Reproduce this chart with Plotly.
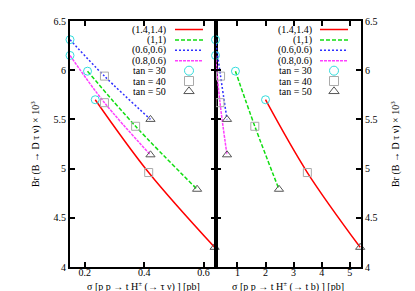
import plotly.graph_objects as go

# ---------------- data ----------------
tan_beta = [30, 40, 50]
series_names = ["(1.4,1.4)", "(1,1)", "(0.6,0.6)", "(0.8,0.6)"]

br_14 = [5.70, 4.96, 4.20]
br_11 = [5.99, 5.43, 4.79]
br_0606 = [6.31, 5.94, 5.50]
br_0806 = [6.15, 5.67, 5.14]

sig_taunu_14 = [0.235, 0.415, 0.637]
sig_taunu_11 = [0.209, 0.371, 0.578]
sig_taunu_0606 = [0.150, 0.266, 0.421]
sig_taunu_0806 = [0.150, 0.266, 0.421]

sig_tb_14 = [2.00, 3.49, 5.37]
sig_tb_11 = [0.93, 1.62, 2.48]
sig_tb_0606 = [0.22, 0.40, 0.63]
sig_tb_0806 = [0.22, 0.38, 0.63]

x_ticks_left = [0.2, 0.4, 0.6]
x_ticks_right = [1, 2, 3, 4, 5]
y_ticks = [4, 4.5, 5, 5.5, 6, 6.5]

x_title_left = "\u03c3 [p p \u2192 t H<sup>\u00b1</sup> (\u2192 \u03c4 \u03bd) ] [pb]"
x_title_right = "\u03c3 [p p \u2192 t H<sup>\u00b1</sup> (\u2192 t b) ] [pb]"
y_title = "Br (B \u2192 D \u03c4 \u03bd) \u00d7 10<sup>3</sup>"

# ---------------- styles ----------------
FONT = "Liberation Serif"
line_colors = ["#ff0000", "#11dd11", "#3030ff", "#ff40ff"]
line_dashes = ["solid", "4px,2px", "2px,2px", "3px,1px"]
marker_syms = ["circle-open", "square-open", "triangle-up-open"]
marker_cols = ["#33dddd", "#aaaaaa", "#555555"]
marker_sizes = [8, 8, 8]

brs = [br_14, br_11, br_0606, br_0806]
sig_left = [sig_taunu_14, sig_taunu_11, sig_taunu_0606, sig_taunu_0806]
sig_right = [sig_tb_14, sig_tb_11, sig_tb_0606, sig_tb_0806]

fig = go.Figure()

for xs_all, xa, ya in [(sig_left, "x", "y"), (sig_right, "x2", "y2")]:
    for i in range(4):
        fig.add_trace(go.Scatter(
            x=xs_all[i], y=brs[i], mode="lines", xaxis=xa, yaxis=ya,
            line=dict(color=line_colors[i], width=1.5, dash=line_dashes[i],
                      shape="spline"),
            showlegend=False, hoverinfo="skip"))
    for k in range(3):
        fig.add_trace(go.Scatter(
            x=[xs_all[i][k] for i in range(4)],
            y=[brs[i][k] for i in range(4)],
            mode="markers", xaxis=xa, yaxis=ya, cliponaxis=False,
            marker=dict(symbol=marker_syms[k], color=marker_cols[k],
                        size=marker_sizes[k], line=dict(width=1)),
            showlegend=False, hoverinfo="skip"))

# ---------------- custom legends (pixel overlay) ----------------
legend_rows = [21.5, 32, 42.3, 52.7, 62.7, 73, 83.3]
legend_labels = series_names + ["tan = %d" % t for t in tan_beta]
annotations = []
for text_right, l0, l1 in [(160, 167, 195), (306, 312, 340)]:
    mid = (l0 + l1) / 2
    for r, lab in enumerate(legend_labels):
        yy = legend_rows[r]
        annotations.append(dict(
            x=text_right, y=yy, xref="x3", yref="y3", text=lab,
            showarrow=False, xanchor="right", yanchor="middle",
            font=dict(family=FONT, size=10, color="black")))
        if r < 4:
            fig.add_trace(go.Scatter(
                x=[l0, l1], y=[yy, yy], mode="lines", xaxis="x3", yaxis="y3",
                line=dict(color=line_colors[r], width=1.5, dash=line_dashes[r]),
                showlegend=False, hoverinfo="skip"))
        else:
            k = r - 4
            fig.add_trace(go.Scatter(
                x=[mid], y=[yy], mode="markers", xaxis="x3", yaxis="y3",
                cliponaxis=False,
                marker=dict(symbol=marker_syms[k], color=marker_cols[k],
                            size=marker_sizes[k] + 1, line=dict(width=1)),
                showlegend=False, hoverinfo="skip"))

# axis titles as annotations (paper coordinates)
title_font = dict(family=FONT, size=10, color="black")
annotations += [
    dict(x=0.251, y=-0.080, xref="paper", yref="paper", text=x_title_left,
         showarrow=False, xanchor="center", yanchor="middle", font=title_font),
    dict(x=0.749, y=-0.080, xref="paper", yref="paper", text=x_title_right,
         showarrow=False, xanchor="center", yanchor="middle", font=title_font),
    dict(x=-0.120, y=0.5, xref="paper", yref="paper", text=y_title,
         showarrow=False, xanchor="center", yanchor="middle", textangle=-90,
         font=title_font),
    dict(x=1.117, y=0.5, xref="paper", yref="paper", text=y_title,
         showarrow=False, xanchor="center", yanchor="middle", textangle=-90,
         font=title_font),
]

axis_common = dict(
    showline=True, linecolor="black", linewidth=2, mirror="ticks",
    ticks="inside", ticklen=5, tickwidth=1.5, tickcolor="black",
    showgrid=False, zeroline=False, automargin=False,
    tickfont=dict(family=FONT, size=10, color="black"),
)

fig.update_layout(
    width=415, height=291,
    margin=dict(l=62, r=62, t=13, b=32, autoexpand=False),
    paper_bgcolor="white", plot_bgcolor="rgba(0,0,0,0)",
    font=dict(family=FONT, size=10, color="black"),
    showlegend=False,
    annotations=annotations,
    xaxis=dict(domain=[0, 0.5], range=[0.15, 0.64], tickvals=x_ticks_left,
               ticktext=[str(v) for v in x_ticks_left], anchor="y",
               ticklabelstandoff=-5, **axis_common),
    yaxis=dict(domain=[0, 1], range=[4, 6.5], tickvals=y_ticks,
               ticktext=[("%g" % v) for v in y_ticks], anchor="x",
               **axis_common),
    xaxis2=dict(domain=[0.5, 1], range=[0.22, 5.4], tickvals=x_ticks_right,
                ticktext=[str(v) for v in x_ticks_right], anchor="y2",
                ticklabelstandoff=-5, **axis_common),
    yaxis2=dict(domain=[0, 1], range=[4, 6.5], tickvals=y_ticks,
                ticktext=[("%g" % v) for v in y_ticks], anchor="x2", side="right",
                **axis_common),
    xaxis3=dict(domain=[0, 1], range=[62, 353], visible=False, anchor="y3",
                fixedrange=True),
    yaxis3=dict(domain=[0, 1], range=[259, 13], visible=False, anchor="x3",
                fixedrange=True),
)

fig.write_html("out.html")
